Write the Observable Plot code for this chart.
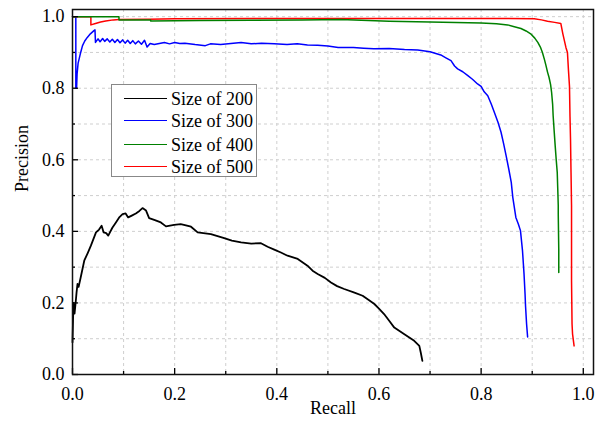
<!DOCTYPE html>
<html><head><meta charset="utf-8">
<script src="https://cdn.jsdelivr.net/npm/d3@7"></script>
<script src="https://cdn.jsdelivr.net/npm/@observablehq/plot@0.6"></script>
<style>
body{margin:0;background:#fff;}
#wrap{position:relative;width:602px;height:423px;font-family:"Liberation Serif","Times New Roman",Times,"DejaVu Serif",serif;}
#legend{position:absolute;left:111px;top:84px;width:146px;height:93px;border:1px solid #888;background:#fff;box-sizing:border-box;}
.row{position:absolute;left:0;height:22px;width:100%;font-size:18px;line-height:22px;color:#000;}
.sw{position:absolute;left:12px;top:10px;width:43px;height:0;border-top:1.5px solid #000;}
.lb{position:absolute;left:59px;top:0;white-space:nowrap;}
</style></head><body><div id="wrap"></div><script>
const seriesNames = ["Size of 200", "Size of 300", "Size of 400", "Size of 500"];
const seriesColors = ["#000000", "#0000ff", "#008000", "#ff0000"];
const majorTicks = [0, 0.2, 0.4, 0.6, 0.8, 1.0];
const minorTicks = [0.1, 0.3, 0.5, 0.7, 0.9];
const gridTicks = [0.1, 0.2, 0.3, 0.4, 0.5, 0.6, 0.7, 0.8, 0.9, 1.0];

// [recall, precision]
const size200 = [[0.0,0.09],[0.001,0.15],[0.002,0.20],[0.004,0.17],[0.0065,0.206],[0.008,0.23],[0.0098,0.253],[0.012,0.245],[0.016,0.271],[0.023,0.318],[0.03,0.34],[0.036,0.36],[0.046,0.397],[0.052,0.405],[0.057,0.416],[0.061,0.397],[0.066,0.395],[0.07,0.388],[0.078,0.41],[0.085,0.425],[0.092,0.44],[0.098,0.448],[0.104,0.45],[0.109,0.439],[0.116,0.444],[0.124,0.45],[0.131,0.457],[0.137,0.465],[0.144,0.458],[0.15,0.437],[0.16,0.432],[0.173,0.425],[0.183,0.414],[0.199,0.418],[0.212,0.42],[0.222,0.417],[0.232,0.413],[0.245,0.397],[0.271,0.392],[0.297,0.381],[0.312,0.374],[0.33,0.369],[0.35,0.366],[0.369,0.367],[0.382,0.357],[0.395,0.349],[0.408,0.341],[0.421,0.332],[0.441,0.323],[0.46,0.304],[0.47,0.29],[0.48,0.281],[0.494,0.27],[0.506,0.257],[0.518,0.247],[0.532,0.239],[0.552,0.229],[0.568,0.22],[0.58,0.208],[0.591,0.197],[0.6,0.184],[0.61,0.169],[0.62,0.15],[0.63,0.131],[0.649,0.113],[0.669,0.094],[0.679,0.08],[0.682,0.06],[0.685,0.038]];
const size300 = [[0.0,1.0],[0.0065,1.0],[0.0065,0.80],[0.008,0.80],[0.009,0.84],[0.011,0.87],[0.013,0.882],[0.016,0.90],[0.0196,0.919],[0.024,0.932],[0.029,0.942],[0.035,0.952],[0.042,0.961],[0.044,0.963],[0.045,0.928],[0.050,0.938],[0.054,0.930],[0.059,0.939],[0.063,0.931],[0.068,0.938],[0.073,0.929],[0.078,0.937],[0.083,0.928],[0.088,0.936],[0.093,0.927],[0.098,0.935],[0.103,0.926],[0.108,0.934],[0.113,0.925],[0.118,0.933],[0.123,0.924],[0.129,0.932],[0.135,0.923],[0.141,0.934],[0.146,0.915],[0.152,0.925],[0.16,0.922],[0.17,0.925],[0.18,0.928],[0.19,0.924],[0.20,0.928],[0.21,0.925],[0.22,0.926],[0.24,0.922],[0.26,0.919],[0.27,0.924],[0.29,0.922],[0.31,0.925],[0.33,0.928],[0.35,0.924],[0.37,0.926],[0.395,0.924],[0.42,0.922],[0.44,0.924],[0.46,0.921],[0.48,0.92],[0.50,0.918],[0.52,0.914],[0.55,0.914],[0.57,0.912],[0.59,0.91],[0.62,0.911],[0.65,0.908],[0.676,0.907],[0.70,0.902],[0.721,0.893],[0.731,0.885],[0.741,0.877],[0.748,0.862],[0.754,0.854],[0.764,0.846],[0.774,0.835],[0.783,0.825],[0.793,0.812],[0.80,0.805],[0.806,0.79],[0.813,0.779],[0.82,0.755],[0.826,0.732],[0.833,0.705],[0.839,0.677],[0.844,0.645],[0.849,0.611],[0.854,0.575],[0.859,0.537],[0.862,0.495],[0.868,0.439],[0.873,0.42],[0.877,0.402],[0.881,0.346],[0.884,0.281],[0.886,0.225],[0.887,0.19],[0.889,0.141],[0.891,0.105]];
const size400 = [[0.0,1.0],[0.091,1.0],[0.091,0.991],[0.153,0.991],[0.153,0.988],[0.25,0.989],[0.35,0.99],[0.45,0.991],[0.525,0.992],[0.62,0.987],[0.70,0.985],[0.80,0.982],[0.83,0.98],[0.852,0.977],[0.865,0.972],[0.878,0.967],[0.888,0.96],[0.897,0.952],[0.905,0.94],[0.911,0.928],[0.916,0.915],[0.92,0.90],[0.924,0.88],[0.927,0.863],[0.93,0.845],[0.933,0.83],[0.936,0.81],[0.938,0.788],[0.94,0.755],[0.941,0.723],[0.943,0.68],[0.945,0.639],[0.947,0.60],[0.949,0.565],[0.95,0.52],[0.951,0.472],[0.951,0.448],[0.952,0.35],[0.952,0.285]];
const size500 = [[0.0,1.0],[0.036,1.0],[0.036,0.977],[0.045,0.981],[0.055,0.985],[0.065,0.988],[0.08,0.991],[0.091,0.992],[0.15,0.993],[0.2,0.994],[0.5,0.995],[0.7,0.995],[0.85,0.995],[0.904,0.994],[0.918,0.991],[0.93,0.987],[0.944,0.984],[0.956,0.981],[0.96,0.952],[0.966,0.914],[0.969,0.90],[0.971,0.85],[0.973,0.805],[0.974,0.72],[0.975,0.658],[0.976,0.565],[0.977,0.472],[0.977,0.262],[0.978,0.141],[0.979,0.113],[0.982,0.08]];

const seriesData = [size200, size300, size400, size500];
const seriesWidths = [1.8, 1.5, 1.5, 1.5];
const toRows = (arr) => arr.map(([recall, precision]) => ({recall, precision}));
const drawOrder = [0, 1, 3, 2];
const fmt = d3.format(".1f");
const grid = {stroke: "#cfcfcf", strokeOpacity: 1, strokeDasharray: "3,3", strokeWidth: 1};

const chart = Plot.plot({
  width: 602, height: 423,
  marginLeft: 72, marginRight: 9, marginTop: 9, marginBottom: 49,
  x: {domain: [0, 1.02], axis: null},
  y: {domain: [0, 1.02], axis: null},
  style: {fontFamily: "'Liberation Serif','Times New Roman',Times,'DejaVu Serif',serif", fontSize: "18px", color: "#000", background: "#fff"},
  marks: [
    Plot.gridX(gridTicks, grid),
    Plot.gridY(gridTicks, grid),
    ...drawOrder.map(i => Plot.line(toRows(seriesData[i]), {x: "recall", y: "precision", stroke: seriesColors[i], strokeWidth: seriesWidths[i], curve: "linear"})),
    Plot.axisX(majorTicks, {tickSize: 0, tickPadding: 13, tickFormat: fmt, label: null, fontSize: 18}),
    Plot.axisX(majorTicks, {tickSize: -6, text: null, label: null, strokeWidth: 1.3}),
    Plot.axisX(minorTicks, {tickSize: -3, text: null, label: null, strokeWidth: 1.3}),
    Plot.axisY(majorTicks, {tickSize: 0, tickPadding: 8, tickFormat: fmt, label: null, fontSize: 18}),
    Plot.axisY(majorTicks, {tickSize: -6, text: null, label: null, strokeWidth: 1.3}),
    Plot.axisY(minorTicks, {tickSize: -3, text: null, label: null, strokeWidth: 1.3}),
    Plot.frame({stroke: "#111", strokeWidth: 1.5}),
    Plot.text(["Recall"], {frameAnchor: "bottom", dy: 39, fontSize: 18, fill: "#000"}),
    Plot.text(["Precision"], {frameAnchor: "left", dx: -50, rotate: -90, fontSize: 18, fill: "#000"})
  ]
});
const wrap = document.getElementById("wrap");
wrap.appendChild(chart);

const legend = document.createElement("div");
legend.id = "legend";
const rowTops = [3, 25, 49, 71];
seriesNames.forEach((name, i) => {
  const row = document.createElement("div");
  row.className = "row";
  row.style.top = rowTops[i] + "px";
  const sw = document.createElement("div");
  sw.className = "sw";
  sw.style.borderTopColor = seriesColors[i];
  const lb = document.createElement("div");
  lb.className = "lb";
  lb.textContent = name;
  row.appendChild(sw); row.appendChild(lb);
  legend.appendChild(row);
});
wrap.appendChild(legend);
</script></body></html>
